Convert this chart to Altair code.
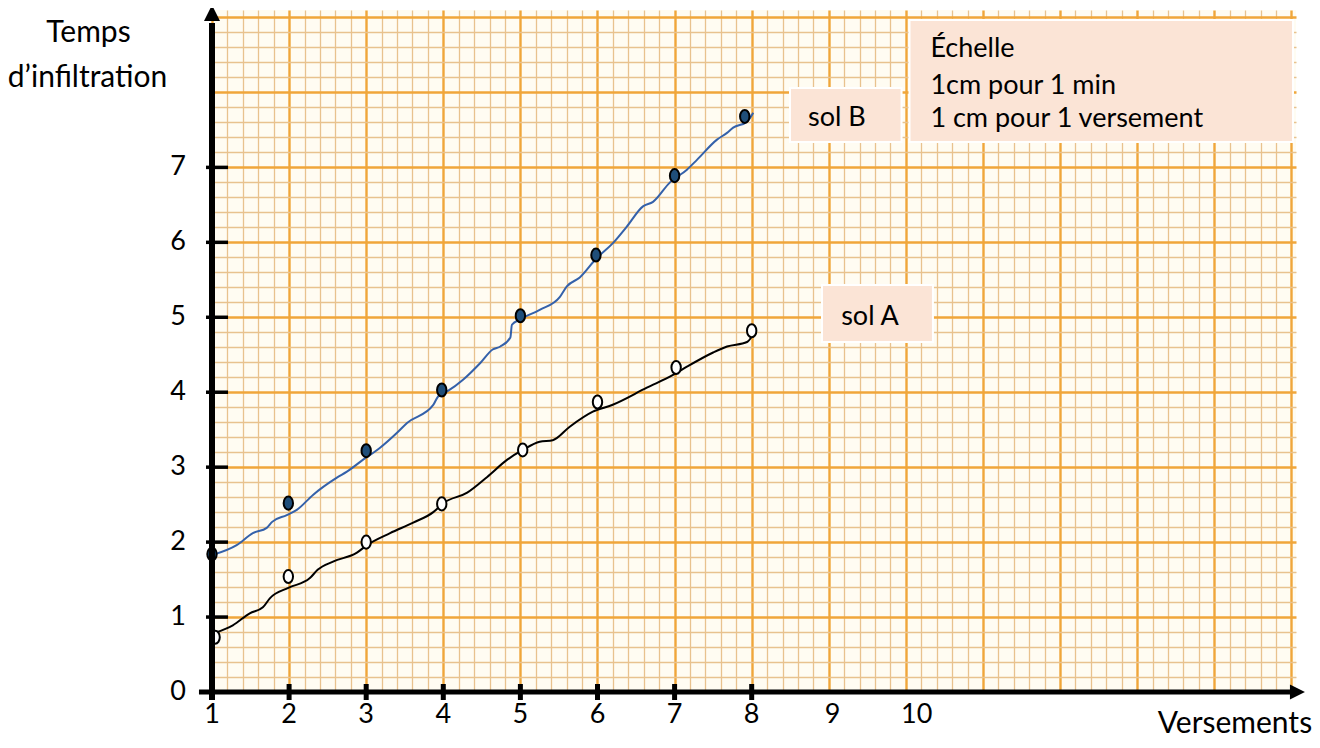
import altair as alt
import pandas as pd

# ---------------- data ----------------
# measured points (markers)
versements_A = [1.04, 1.99, 3.0, 3.98, 5.03, 6.0, 7.02, 8.0]
temps_A = [0.73, 1.54, 2.0, 2.51, 3.23, 3.87, 4.33, 4.82]
versements_B = [1.0, 1.99, 3.0, 3.98, 5.0, 5.98, 7.0, 7.91]
temps_B = [1.84, 2.52, 3.22, 4.03, 5.02, 5.83, 6.89, 7.68]

# hand-drawn curves (traced)
curve_A_x = [1.04, 1.27, 1.49, 1.66, 1.75, 1.99, 2.27, 2.37, 2.57, 2.88, 3.01, 3.31, 3.61, 3.87, 4.00,
             4.31, 4.57, 4.83, 5.03, 5.25, 5.42, 5.64, 5.94, 6.19, 6.64, 6.98, 7.16, 7.50, 7.68, 7.94, 8.00]
curve_A_y = [0.79, 0.89, 1.05, 1.13, 1.25, 1.39, 1.52, 1.63, 1.74, 1.86, 1.96, 2.12, 2.26, 2.40, 2.52,
             2.66, 2.87, 3.10, 3.23, 3.34, 3.36, 3.54, 3.74, 3.83, 4.06, 4.23, 4.34, 4.53, 4.61, 4.67, 4.74]
curve_B_x = [1.01, 1.32, 1.53, 1.71, 1.78, 1.97, 2.10, 2.31, 2.62, 2.75, 2.96, 3.18, 3.40, 3.53, 3.87,
             3.93, 4.05, 4.26, 4.48, 4.64, 4.74, 4.87, 4.89, 4.99, 5.25, 5.51, 5.60, 5.77, 5.99, 6.20,
             6.38, 6.59, 6.72, 6.94, 7.16, 7.29, 7.55, 7.68, 7.76, 7.94, 8.02]
curve_B_y = [1.83, 1.96, 2.12, 2.19, 2.27, 2.36, 2.43, 2.63, 2.86, 2.94, 3.10, 3.26, 3.46, 3.59, 3.83,
             3.94, 4.01, 4.17, 4.39, 4.57, 4.61, 4.73, 4.90, 4.97, 5.10, 5.27, 5.41, 5.53, 5.79, 5.99,
             6.21, 6.48, 6.54, 6.80, 6.97, 7.10, 7.37, 7.46, 7.53, 7.61, 7.73]

x_ticks = [2, 3, 4, 5, 6, 7, 8]
x_tick_labels = ["1", "2", "3", "4", "5", "6", "7", "8", "9", "10"]
x_label_values = [1, 2, 3, 4, 5, 6, 7, 8, 9.05, 10.14]
y_ticks = [1, 2, 3, 4, 5, 6, 7]
y_tick_labels = ["0", "1", "2", "3", "4", "5", "6", "7"]
y_label_values = [0, 1, 2, 3, 4, 5, 6, 7]

# ---------------- style ----------------
FONT = "Lato"
FS = 27
FS_TITLE = 30
PAPER = "#fffcf2"
MAJOR = "#f0a63a"
MINOR = "#e8c28e"
BOX = "#fbe4d6"
BLUE_LINE = "#3461aa"
BLUE_FILL = "#1f4e79"

X_DOMAIN = [1, 15.06]
Y_DOMAIN = [0, 9.1]
W, H = 1084, 682

test = "abs(datum.value - round(datum.value)) < 0.001"
grid_x_vals = [round(1 + 0.2 * k, 2) for k in range(71)]
grid_y_vals = [round(0.2 * k, 2) for k in range(46)]

def mkaxis(vals):
    return alt.Axis(values=vals, grid=True, labels=False, ticks=False, domain=False, title=None,
                    gridColor={"condition": {"test": test, "value": MAJOR}, "value": MINOR},
                    gridWidth={"condition": {"test": test, "value": 2.4}, "value": 1.3},
                    gridOpacity=1)

xscale = alt.Scale(domain=X_DOMAIN, nice=False, zero=False)
yscale = alt.Scale(domain=Y_DOMAIN, nice=False, zero=False)

def X(f="x"):
    return alt.X(f"{f}:Q", scale=xscale, axis=mkaxis(grid_x_vals))

def Y(f="y"):
    return alt.Y(f"{f}:Q", scale=yscale, axis=mkaxis(grid_y_vals))

# ---------------- layers ----------------
# annotation boxes (sol B, Échelle, sol A)
boxes = pd.DataFrame({
    "x": [8.497, 10.047, 8.912], "x2": [9.944, 15.021, 10.351],
    "y": [8.059, 8.966, 5.430], "y2": [7.338, 7.338, 4.670],
})
box_layer = alt.Chart(boxes).mark_rect(fill=BOX, stroke="white", strokeWidth=2).encode(
    x=X(), x2="x2:Q", y=Y(), y2="y2:Q")

# curves
dfA = pd.DataFrame({"x": curve_A_x, "y": curve_A_y, "o": range(len(curve_A_x))})
dfB = pd.DataFrame({"x": curve_B_x, "y": curve_B_y, "o": range(len(curve_B_x))})
lineA = alt.Chart(dfA).mark_line(color="black", strokeWidth=2, interpolate="monotone").encode(
    x=X(), y=Y(), order="o:Q")
lineB = alt.Chart(dfB).mark_line(color=BLUE_LINE, strokeWidth=2, interpolate="monotone").encode(
    x=X(), y=Y(), order="o:Q")

ELLIPSE = "M-0.72,0 A0.72,1 0 1,1 0.72,0 A0.72,1 0 1,1 -0.72,0 Z"
ptsA = alt.Chart(pd.DataFrame({"x": versements_A, "y": temps_A})).mark_point(
    shape=ELLIPSE, size=170, fill="white", stroke="black", strokeWidth=2, opacity=1, fillOpacity=1
).encode(x=X(), y=Y())
ptsB = alt.Chart(pd.DataFrame({"x": versements_B, "y": temps_B})).mark_point(
    shape=ELLIPSE, size=170, fill=BLUE_FILL, stroke="black", strokeWidth=2, opacity=1, fillOpacity=1
).encode(x=X(), y=Y())

# axes drawn as arrows
xaxis_line = alt.Chart(pd.DataFrame({"x": [0.831], "x2": [14.982], "y": [0]})).mark_rule(
    color="black", strokeWidth=5).encode(x=X(), x2="x2:Q", y=Y())
yaxis_line = alt.Chart(pd.DataFrame({"x": [1], "y": [-0.107], "y2": [8.926]})).mark_rule(
    color="black", strokeWidth=6).encode(x=X(), y=Y(), y2="y2:Q")
arrow_up = alt.Chart(pd.DataFrame({"x": [1], "y": [9.06]})).mark_point(
    shape="M0,-1L1,1L-1,1Z", size=256, filled=True, color="black", opacity=1).encode(x=X(), y=Y())
arrow_right = alt.Chart(pd.DataFrame({"x": [15.079], "y": [0]})).mark_point(
    shape="M1,0L-1,-1L-1,1Z", size=225, filled=True, color="black", opacity=1).encode(x=X(), y=Y())

yt = alt.Chart(pd.DataFrame({"y": y_ticks, "x": [0.922] * len(y_ticks), "x2": [1.208] * len(y_ticks)})).mark_rule(
    color="black", strokeWidth=3.5).encode(x=X(), x2="x2:Q", y=Y())
xt = alt.Chart(pd.DataFrame({"x": x_ticks, "y": [-0.107] * len(x_ticks), "y2": [0.107] * len(x_ticks)})).mark_rule(
    color="black", strokeWidth=5).encode(x=X(), y=Y(), y2="y2:Q")

# tick labels
ylab = alt.Chart(pd.DataFrame({"t": y_tick_labels, "y": y_label_values, "x": [0.559] * len(y_label_values)})).mark_text(
    font=FONT, fontSize=FS, color="black", align="center", baseline="middle").encode(x=X(), y=Y(), text="t:N")
xlab = alt.Chart(pd.DataFrame({"t": x_tick_labels, "x": x_label_values, "y": [-0.307] * len(x_label_values)})).mark_text(
    font=FONT, fontSize=FS, color="black", align="center", baseline="middle").encode(x=X(), y=Y(), text="t:N")

# axis titles
titles = pd.DataFrame({
    "t": ["Temps", "d\u2019infiltration", "Versements"],
    "x": [-0.602, -0.615, 14.268],
    "y": [8.79, 8.19, -0.427],
})
ttext = alt.Chart(titles).mark_text(font=FONT, fontSize=FS_TITLE, color="black", align="center",
                                    baseline="middle").encode(x=X(), y=Y(), text="t:N")

# box labels
centered = pd.DataFrame({
    "t": ["sol B", "sol A"],
    "x": [9.106, 9.534],
    "y": [7.665, 5.003],
})
ctext = alt.Chart(centered).mark_text(font=FONT, fontSize=FS, color="black", align="center",
                                      baseline="middle").encode(x=X(), y=Y(), text="t:N")
lefttext = pd.DataFrame({
    "t": ["\u00c9chelle", "1cm pour 1 min", "1 cm pour 1 versement"],
    "x": [10.318, 10.318, 10.318],
    "y": [8.579, 8.085, 7.645],
})
ltext = alt.Chart(lefttext).mark_text(font=FONT, fontSize=FS, color="black", align="left",
                                      baseline="middle").encode(x=X(), y=Y(), text="t:N")

chart = alt.layer(
    box_layer, lineA, lineB, ptsA, ptsB,
    xaxis_line, yaxis_line, yt, xt, arrow_up, arrow_right,
    ylab, xlab, ttext, ctext, ltext,
).properties(
    width=W, height=H,
    autosize=alt.AutoSizeParams(type="none"),
    padding={"left": 204, "top": 2, "right": 16, "bottom": 48},
    background="white",
).configure_view(fill=PAPER, stroke=None)

chart.save("out.html", embed_options={"renderer": "svg", "actions": False})
